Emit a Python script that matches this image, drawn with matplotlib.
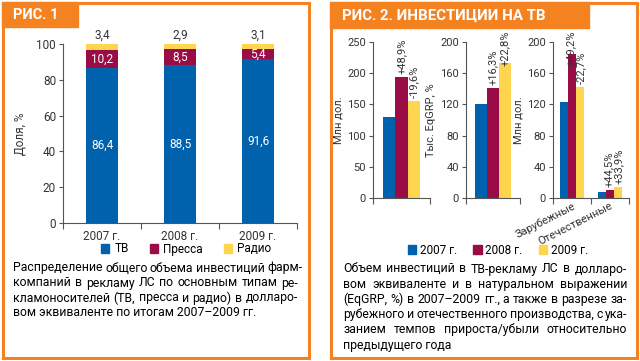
import matplotlib
matplotlib.use("Agg")
import matplotlib.pyplot as plt
import matplotlib.transforms as mtransforms
from matplotlib.patches import Rectangle, Patch

# Рис. 1 data
years = ["2007 г.", "2008 г.", "2009 г."]
tv_share = [86.4, 88.5, 91.6]
press_share = [10.2, 8.5, 5.4]
radio_share = [3.4, 2.9, 3.1]
media_names = ["ТВ", "Пресса", "Радио"]

# Рис. 2 data
money_total = [130, 194, 156]
money_growth = ["", "+48,9%", "-19,6%"]
grp_total = [121, 141, 173]
grp_growth = ["", "+16,3%", "+22,8%"]
origin_cats = ["Зарубежные", "Отечественные"]
origin_2007 = [123, 7.5]
origin_2008 = [184, 10.8]
origin_2009 = [142, 14.5]
origin_growth_2008 = ["+49,2%", "+44,5%"]
origin_growth_2009 = ["-22,7%", "+33,9%"]
year_names = ["2007 г.", "2008 г.", "2009 г."]

BLUE = "#0061AC"
RED = "#9A0C46"
YELLOW = "#FFD54F"
ORANGE = "#F58220"
GREY = "#333333"

plt.rcParams["font.family"] = ["Roboto", "DejaVu Sans"]
W, H = 640, 361
fig = plt.figure(figsize=(W / 100, H / 100), dpi=100)
renderer = fig.canvas.get_renderer()


def ax_px(x0, y0, x1, y1):
    return fig.add_axes([x0 / W, 1 - y1 / H, (x1 - x0) / W, (y1 - y0) / H])


def fx(x):
    return x / W


def fy(y):
    return 1 - y / H


def style(ax):
    for s in ["top", "right"]:
        ax.spines[s].set_visible(False)
    for s in ["left", "bottom"]:
        ax.spines[s].set_color("#555555")
        ax.spines[s].set_linewidth(0.8)
    ax.tick_params(axis="y", labelsize=8, colors="#555555", labelcolor=GREY,
                   length=3, width=0.8, pad=2)
    ax.tick_params(axis="x", which="both", colors="#555555", labelcolor=GREY,
                   labelsize=8, width=0.8)
    ax.set_facecolor("none")


def growth_label(ax, x, y, s):
    # label above the bar, pushed down if it would run above y=30 px
    t = ax.text(x, y, s, rotation=90, ha="center", va="bottom", fontsize=8,
                color=GREY, transform=ax.transData + mtransforms.ScaledTranslation(
                    0, 2 / 72, fig.dpi_scale_trans))
    ext = t.get_window_extent(renderer)
    top_px = H - ext.y1
    if top_px < 30:
        t.set_transform(ax.transData + mtransforms.ScaledTranslation(
            0, (2 - (30 - top_px)) / 100, fig.dpi_scale_trans))
    return t


# panels and headers
bg = fig.add_axes([0, 0, 1, 1])
bg.set_xlim(0, W)
bg.set_ylim(H, 0)
bg.axis("off")
bg.add_patch(Rectangle((2.5, 2.5), 306, 355, fill=False, ec=ORANGE, lw=2.2))
bg.add_patch(Rectangle((330.5, 2.5), 306, 355, fill=False, ec=ORANGE, lw=2.2))
bg.add_patch(Rectangle((2, 2), 76, 25, color=ORANGE))
bg.add_patch(Rectangle((330, 2), 259, 26, color=ORANGE))
bg.text(13, 15, "РИС. 1", color="white", fontsize=10.5, fontweight="bold",
        va="center", ha="left")
bg.text(342, 15.5, "РИС. 2. ИНВЕСТИЦИИ НА ТВ", color="white", fontsize=10.8,
        fontweight="bold", va="center", ha="left")

# ---- Рис. 1: stacked bars
ax = ax_px(63, 44, 297, 223)
x = range(len(years))
bw = 0.4
ax.bar(x, tv_share, bw, color=BLUE)
ax.bar(x, press_share, bw, bottom=tv_share, color=RED)
tops = [a + b for a, b in zip(tv_share, press_share)]
ax.bar(x, radio_share, bw, bottom=tops, color=YELLOW)
for i in x:
    ax.text(i, tv_share[i] / 2, f"{tv_share[i]}".replace(".", ","), color="white",
            ha="center", va="center", fontsize=8.5)
    ax.text(i, tv_share[i] + press_share[i] / 2, f"{press_share[i]}".replace(".", ","),
            color="white", ha="center", va="center", fontsize=8.5)
    ax.text(i, 101.5, f"{radio_share[i]}".replace(".", ","), color=GREY,
            ha="center", va="bottom", fontsize=8.5)
ax.set_xlim(-0.5, 2.5)
ax.set_ylim(0, 100)
ax.set_yticks(range(0, 101, 20))
ax.set_xticks(list(x))
ax.set_xticklabels(years)
ax.set_xticks([-0.5, 0.5, 1.5, 2.5], minor=True)
ax.set_ylabel("Доля, %", fontsize=8.5, color=GREY, labelpad=7)
style(ax)
ax.tick_params(axis="both", labelsize=8.5)
ax.tick_params(axis="x", which="minor", length=4)
ax.tick_params(axis="x", which="major", length=0, pad=5)

fig.legend([Patch(color=c) for c in [BLUE, RED, YELLOW]], media_names,
           loc="center", bbox_to_anchor=(fx(186), fy(249)), ncol=3, frameon=False,
           fontsize=8.5, handlelength=0.7, handleheight=0.7, handletextpad=0.4,
           columnspacing=1.8, borderpad=0)

# ---- Рис. 2: three small charts
cols = [BLUE, RED, YELLOW]


def single(ax, vals, labels, ymax, step, ylabel):
    off = [-0.22, 0, 0.22]
    for k in range(3):
        ax.bar(off[k], vals[k], 0.22, color=cols[k])
    ax.set_xlim(-0.5, 0.5)
    ax.set_ylim(0, ymax)
    for k in range(3):
        if labels[k]:
            growth_label(ax, off[k], vals[k], labels[k])
    ax.set_yticks(range(0, ymax + 1, step))
    ax.set_xticks([])
    ax.set_xticks([-0.5, 0.5], minor=True)
    ax.set_ylabel(ylabel, fontsize=8, color=GREY, labelpad=3)
    style(ax)
    ax.tick_params(axis="x", which="minor", length=4)


a1 = ax_px(373, 42, 430, 198)
single(a1, money_total, money_growth, 250, 50, "Млн дол.")
a2 = ax_px(466, 42, 520, 198)
single(a2, grp_total, grp_growth, 200, 40, "Тыс. EqGRP, %")

a3 = ax_px(553, 42, 629, 198)
pos = range(len(origin_cats))
series = [origin_2007, origin_2008, origin_2009]
off = [-0.21, 0, 0.21]
for k in range(3):
    a3.bar([p + off[k] for p in pos], series[k], 0.21, color=cols[k])
a3.set_xlim(-0.5, 1.5)
a3.set_ylim(0, 200)
for p in pos:
    growth_label(a3, p - 0.02, origin_2008[p], origin_growth_2008[p])
    growth_label(a3, p + 0.23, origin_2009[p], origin_growth_2009[p])
a3.set_yticks(range(0, 201, 40))
a3.set_xticks(list(pos))
a3.set_xticklabels(origin_cats, rotation=27, ha="right", rotation_mode="anchor")
shift = mtransforms.ScaledTranslation(12 / 100, 0, fig.dpi_scale_trans)
for lab in a3.get_xticklabels():
    lab.set_transform(lab.get_transform() + shift)
a3.set_xticks([-0.5, 0.5, 1.5], minor=True)
a3.set_ylabel("Млн дол.", fontsize=8, color=GREY, labelpad=3)
style(a3)
a3.tick_params(axis="x", which="minor", length=4)
a3.tick_params(axis="x", which="major", length=0, pad=2)

fig.legend([Patch(color=c) for c in cols], year_names,
           loc="center", bbox_to_anchor=(fx(498), fy(250)), ncol=3, frameon=False,
           fontsize=8.5, handlelength=0.7, handleheight=0.7, handletextpad=0.3,
           columnspacing=1.4, borderpad=0)

# ---- captions (justified manually)
cap1 = ["Распределение общего объема инвестиций фарм-",
        "компаний в рекламу ЛС по основным типам ре-",
        "кламоносителей (ТВ, пресса и радио) в долларо-",
        "вом эквиваленте по итогам 2007–2009 гг."]
cap2 = ["Объем инвестиций в ТВ-рекламу ЛС в долларо-",
        "вом эквиваленте и в натуральном выражении",
        "(EqGRP, %) в 2007–2009 гг., а также в разрезе за-",
        "рубежного и отечественного производства, с ука-",
        "занием темпов прироста/убыли относительно",
        "предыдущего года"]

CAP_FS = 8.8


def caption(lines, x0, x1, y0, dy):
    for n, line in enumerate(lines):
        y = y0 + n * dy
        words = line.split(" ")
        if n == len(lines) - 1 or len(words) < 2:
            bg.text(x0, y, line, fontsize=CAP_FS, color="black", va="center", ha="left")
            continue
        widths = []
        for w in words:
            t = bg.text(0, 0, w, fontsize=CAP_FS)
            widths.append(t.get_window_extent(renderer).width)
            t.remove()
        gap = max((x1 - x0 - sum(widths)) / (len(words) - 1), 2.5)
        xx = x0
        for w, wd in zip(words, widths):
            bg.text(xx, y, w, fontsize=CAP_FS, color="black", va="center", ha="left")
            xx += wd + gap


caption(cap1, 13, 298, 268, 15)
caption(cap2, 343, 627, 269, 15.2)

fig.savefig("out.png", dpi=100)
